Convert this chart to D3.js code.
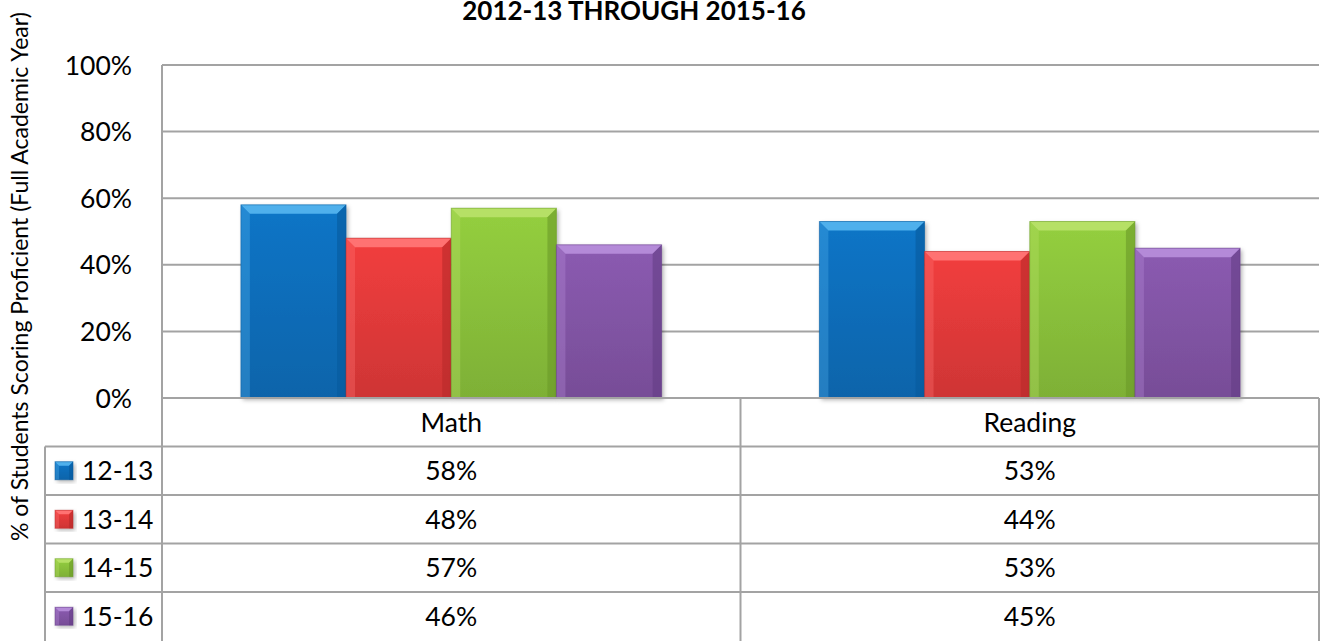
<!DOCTYPE html>
<html>
<head>
<meta charset="utf-8">
<script src="https://cdn.jsdelivr.net/npm/d3@7"></script>
<style>
  body { margin: 0; background: #fff; }
  text { font-family: Lato, "Open Sans", sans-serif; fill: #000; }
</style>
</head>
<body>
<svg width="1322" height="641"></svg>
<script>
// data
const subjects = ['Math', 'Reading'];
const years = ['12-13', '13-14', '14-15', '15-16'];
const math = [58, 48, 57, 46];
const reading = [53, 44, 53, 45];
const yTicks = [0, 20, 40, 60, 80, 100];

const values = {Math: math, Reading: reading};
const colors = [
  {face: '#0a6fbd', top: '#4fb0ec', dark: '#075a9c'},
  {face: '#e53b3b', top: '#ff7272', dark: '#b82a2a'},
  {face: '#8cc43c', top: '#b6e066', dark: '#6a9a28'},
  {face: '#8456a8', top: '#b48ad8', dark: '#643d85'}
];

const svg = d3.select('svg');
const plotL = 162, plotR = 1319, plotT = 65, base = 398;
const tableLeft = 45, rowH = 48.5;

const x = d3.scaleBand().domain(subjects).range([plotL, plotR]);
const xi = d3.scaleBand().domain(years).range([0, x.bandwidth()]).paddingOuter(0.75).paddingInner(0);
const y = d3.scaleLinear().domain([0, 100]).range([base, plotT]);

// title (first line is outside the picture)
svg.append('text')
  .attr('x', 634).attr('y', 20)
  .attr('text-anchor', 'middle')
  .style('font-weight', 'bold')
  .style('font-size', '26px')
  .text('2012-13 THROUGH 2015-16');

// axis label
svg.append('text')
  .attr('transform', 'translate(28,541) rotate(-90)')
  .style('font-size', '23px')
  .text('% of Students Scoring Proficient (Full Academic Year)');

// grid
svg.append('g').selectAll('line').data(yTicks.filter(d => d > 0)).join('line')
  .attr('x1', plotL).attr('x2', plotR)
  .attr('y1', d => y(d)).attr('y2', d => y(d))
  .attr('stroke', '#a3a3a3').attr('stroke-width', 2);

svg.append('g').selectAll('text').data(yTicks).join('text')
  .attr('x', 132).attr('y', d => y(d) + 9.5)
  .attr('text-anchor', 'end')
  .style('font-size', '26.5px')
  .text(d => d + '%');

// bars with a bevel
const defs = svg.append('defs');
defs.append('filter').attr('id', 'shadow').attr('x', '-10%').attr('y', '-10%').attr('width', '130%').attr('height', '130%')
  .append('feDropShadow').attr('dx', 2).attr('dy', 2).attr('stdDeviation', 2).attr('flood-opacity', 0.3);

colors.forEach((c, i) => {
  const g = defs.append('linearGradient').attr('id', 'face' + i).attr('x1', 0).attr('y1', 0).attr('x2', 0).attr('y2', 1);
  g.append('stop').attr('offset', 0).attr('stop-color', d3.color(c.face).brighter(0.15));
  g.append('stop').attr('offset', 1).attr('stop-color', d3.color(c.face).darker(0.3));
});

function bevel(sel, x0, y0, w, h, c, i, b) {
  const x1 = x0 + w, y1 = y0 + h;
  sel.append('rect').attr('x', x0).attr('y', y0).attr('width', w).attr('height', h)
    .attr('fill', `url(#face${i})`).attr('filter', 'url(#shadow)');
  const poly = (pts, fill, op) => sel.append('polygon')
    .attr('points', pts.map(p => p.join(',')).join(' '))
    .attr('fill', fill).attr('opacity', op);
  poly([[x0, y0], [x1, y0], [x1 - b, y0 + b], [x0 + b, y0 + b]], c.top, 1);
  poly([[x0, y0], [x0 + b, y0 + b], [x0 + b, y1], [x0, y1]], c.top, 0.35);
  poly([[x1, y0], [x1, y1], [x1 - b, y1], [x1 - b, y0 + b]], c.dark, 0.6);
  sel.append('rect').attr('x', x0).attr('y', y0).attr('width', w).attr('height', h)
    .attr('fill', 'none').attr('stroke', c.dark).attr('stroke-width', 1).attr('opacity', 0.5);
}

const bars = svg.append('g');
subjects.forEach(s => {
  values[s].forEach((v, i) => {
    bevel(bars, x(s) + xi(years[i]), y(v), xi.bandwidth(), base - y(v), colors[i], i, 9);
  });
});

// data table
const tbl = svg.append('g').attr('stroke', '#a3a3a3').attr('stroke-width', 2);
const rowY = d3.range(years.length + 1).map(k => base + rowH * (k + 1));
tbl.append('line').attr('x1', plotL).attr('x2', plotR).attr('y1', base).attr('y2', base);
tbl.selectAll('.h').data(rowY.slice(0, years.length)).join('line')
  .attr('x1', tableLeft).attr('x2', plotR).attr('y1', d => d).attr('y2', d => d);
tbl.append('line').attr('x1', plotL).attr('x2', plotL).attr('y1', plotT).attr('y2', 641);
tbl.append('line').attr('x1', tableLeft).attr('x2', tableLeft).attr('y1', rowY[0]).attr('y2', 641);
tbl.append('line').attr('x1', x('Reading')).attr('x2', x('Reading')).attr('y1', base).attr('y2', 641);
tbl.append('line').attr('x1', plotR).attr('x2', plotR).attr('y1', base).attr('y2', 641);

svg.append('g').selectAll('text').data(subjects).join('text')
  .attr('x', d => x(d) + x.bandwidth() / 2)
  .attr('y', base + rowH / 2 + 9.5)
  .attr('text-anchor', 'middle')
  .style('font-size', '26.5px')
  .text(d => d);

years.forEach((yr, i) => {
  const cy = base + rowH * (i + 1) + rowH / 2;
  const key = svg.append('g');
  bevel(key, 55, cy - 9, 18, 18, colors[i], i, 4);
  svg.append('text').attr('x', 82).attr('y', cy + 9.5)
    .style('font-size', '26.5px').text(yr);
  subjects.forEach(s => {
    svg.append('text')
      .attr('x', x(s) + x.bandwidth() / 2).attr('y', cy + 9.5)
      .attr('text-anchor', 'middle')
      .style('font-size', '26.5px')
      .text(values[s][i] + '%');
  });
});
</script>
</body>
</html>
